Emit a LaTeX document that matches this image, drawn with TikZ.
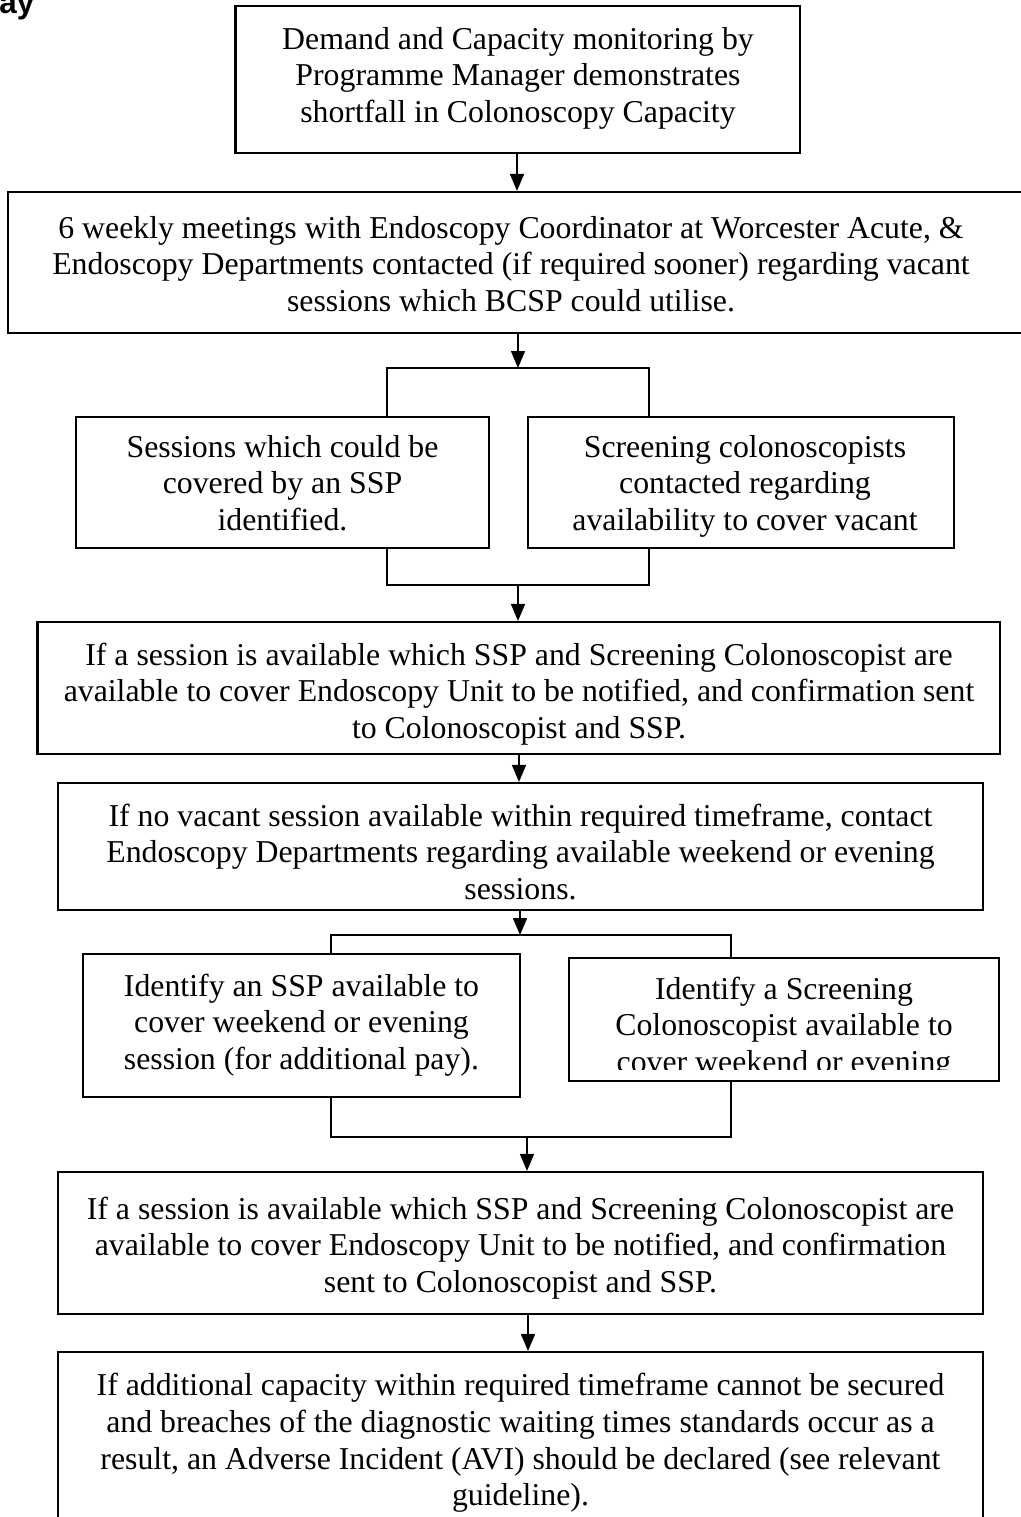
\documentclass[tikz,border=0pt]{standalone}
\usepackage{fontspec}
\setmainfont{Liberation Serif}
\newfontfamily\titlefont{Liberation Sans}
\usetikzlibrary{arrows.meta,fit}
\begin{document}
\begin{tikzpicture}[x=0.5pt,y=-0.5pt,
  boxed/.style={draw, line width=1.05pt, inner sep=0pt},
  txt/.style={align=center, inner sep=0pt, font=\fontsize{15.9}{18.3}\selectfont},
  titletxt/.style={inner sep=0pt, font=\titlefont\bfseries\fontsize{15.7}{18}\selectfont},
  conn/.style={line width=0.75pt},
  arr/.style={conn, -{Triangle[length=8.5pt,width=7pt]}}]
\useasboundingbox (0,0) rectangle (1021,1517);
\clip (0,0) rectangle (1021,1517);

\node[titletxt, anchor=base west] (ttl) at (-1,13) {ay};

% boxes
\node[boxed, fit={(235.5,6) (800,153)}] (b1) {};
\node[boxed, fit={(8,192) (1035,333)}] (b2) {};
\node[boxed, fit={(76,417) (489,548)}] (b3) {};
\node[boxed, fit={(528,417) (954,548)}] (b4) {};
\node[boxed, fit={(37.5,622) (1000,754)}] (b5) {};
\node[boxed, fit={(58,783) (983,910)}] (b6) {};
\node[boxed, fit={(83,954) (520,1097)}] (b7) {};
\node[boxed, fit={(569,958) (999,1081)}] (b8) {};
\node[boxed, fit={(58,1172) (983,1314)}] (b9) {};
\node[boxed, fit={(58,1352) (983,1545)}] (b10) {};

% texts
\node[txt] (t1) at (518,78) {Demand and Capacity monitoring by\\Programme Manager demonstrates\\shortfall in Colonoscopy Capacity};
\node[txt] (t2) at (511,264) {6 weekly meetings with Endoscopy Coordinator at Worcester Acute, \&\\Endoscopy Departments contacted (if required sooner) regarding vacant\\sessions which BCSP could utilise.};
\node[txt] (t3) at (282.5,483) {Sessions which could be\\covered by an SSP\\identified.};
\node[txt] (t4) at (745,486) {Screening colonoscopists\\contacted regarding\\availability to cover vacant};
\node[txt] (t5) at (519,694) {If a session is available which SSP and Screening Colonoscopist are\\available to cover Endoscopy Unit to be notified, and confirmation sent\\to Colonoscopist and SSP.};
\node[txt] (t6) at (520.5,852) {If no vacant session available within required timeframe, contact\\Endoscopy Departments regarding available weekend or evening\\sessions.};
\node[txt] (t7) at (301.5,1025) {Identify an SSP available to\\cover weekend or evening\\session (for additional pay).};
\begin{scope}
\clip (569,958) rectangle (999,1069);
\node[txt] (t8) at (784,1028) {Identify a Screening\\Colonoscopist available to\\cover weekend or evening};
\end{scope}
\node[txt] (t9) at (520.5,1248) {If a session is available which SSP and Screening Colonoscopist are\\available to cover Endoscopy Unit to be notified, and confirmation\\sent to Colonoscopist and SSP.};
\node[txt] (t10) at (520.5,1443) {If additional capacity within required timeframe cannot be secured\\and breaches of the diagnostic waiting times standards occur as a\\result, an Adverse Incident (AVI) should be declared (see relevant\\guideline).};

% connector coordinates
\coordinate (c1) at (517,0);
\coordinate (br1) at (518,368);
\coordinate (bl1) at (387,368);
\coordinate (brr1) at (649,368);
\coordinate (j1) at (518,585);
\coordinate (c5) at (519,0);
\coordinate (br2) at (520,935);
\coordinate (bl2) at (331,935);
\coordinate (brr2) at (731,935);
\coordinate (j2) at (527,1137);
\coordinate (c9) at (528,0);

\draw[arr] (b1.south -| c1) -- (b2.north -| c1);
\draw[arr] (b2.south -| br1) -- (br1);
\draw[conn] (b3.north -| bl1) -- (bl1) -- (brr1) -- (b4.north -| brr1);
\draw[conn] (b3.south -| bl1) -- (bl1 |- j1) -- (brr1 |- j1) -- (b4.south -| brr1);
\draw[arr] (j1) -- (b5.north -| j1);
\draw[arr] (b5.south -| c5) -- (b6.north -| c5);
\draw[arr] (b6.south -| br2) -- (br2);
\draw[conn] (b7.north -| bl2) -- (bl2) -- (brr2) -- (b8.north -| brr2);
\draw[conn] (b7.south -| bl2) -- (bl2 |- j2) -- (brr2 |- j2) -- (b8.south -| brr2);
\draw[arr] (j2) -- (b9.north -| j2);
\draw[arr] (b9.south -| c9) -- (b10.north -| c9);
\end{tikzpicture}
\end{document}
